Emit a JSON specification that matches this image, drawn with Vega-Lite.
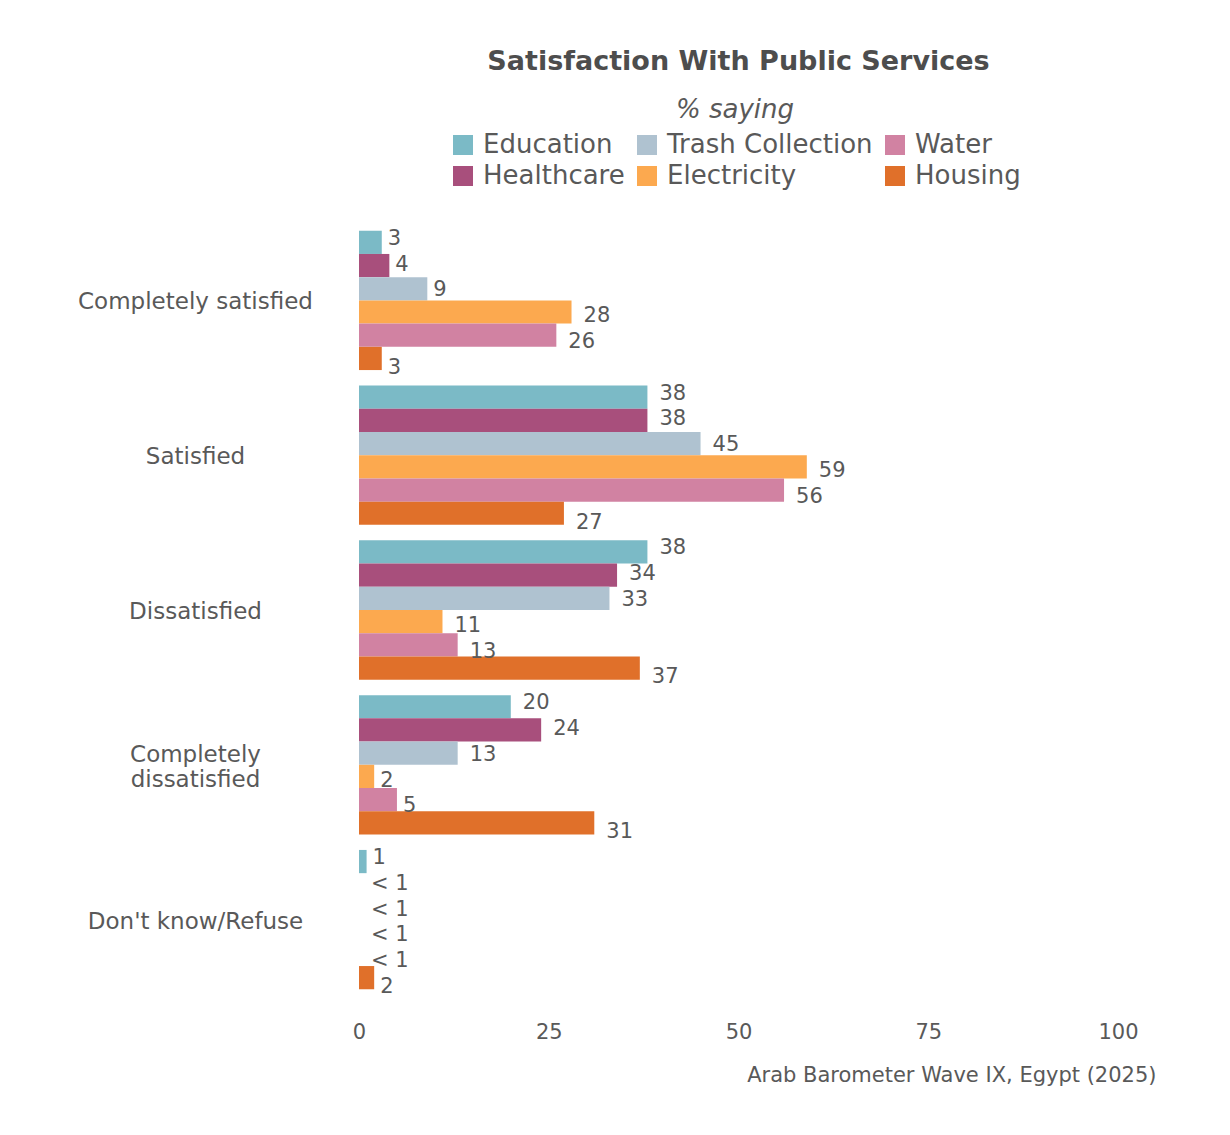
{
  "$schema": "https://vega.github.io/schema/vega-lite/v6.json",
  "width": 759,
  "height": 774,
  "autosize": {"type": "none"},
  "padding": {"left": 359, "top": 223, "right": 112, "bottom": 138},
  "background": "white",
  "title": {
    "text": "Satisfaction With Public Services",
    "anchor": "middle",
    "frame": "group",
    "font": "DejaVu Sans",
    "fontSize": 27,
    "fontWeight": "bold",
    "color": "#4d4d4d",
    "offset": 21
  },
  "config": {
    "view": {"stroke": null},
    "font": "DejaVu Sans",
    "text": {"font": "DejaVu Sans"}
  },
  "data": {
    "values": [
      {"response": "Completely satisfied", "service": "Education", "pct": 3, "label": "3"},
      {"response": "Completely satisfied", "service": "Healthcare", "pct": 4, "label": "4"},
      {"response": "Completely satisfied", "service": "Trash Collection", "pct": 9, "label": "9"},
      {"response": "Completely satisfied", "service": "Electricity", "pct": 28, "label": "28"},
      {"response": "Completely satisfied", "service": "Water", "pct": 26, "label": "26"},
      {"response": "Completely satisfied", "service": "Housing", "pct": 3, "label": "3"},
      {"response": "Satisfied", "service": "Education", "pct": 38, "label": "38"},
      {"response": "Satisfied", "service": "Healthcare", "pct": 38, "label": "38"},
      {"response": "Satisfied", "service": "Trash Collection", "pct": 45, "label": "45"},
      {"response": "Satisfied", "service": "Electricity", "pct": 59, "label": "59"},
      {"response": "Satisfied", "service": "Water", "pct": 56, "label": "56"},
      {"response": "Satisfied", "service": "Housing", "pct": 27, "label": "27"},
      {"response": "Dissatisfied", "service": "Education", "pct": 38, "label": "38"},
      {"response": "Dissatisfied", "service": "Healthcare", "pct": 34, "label": "34"},
      {"response": "Dissatisfied", "service": "Trash Collection", "pct": 33, "label": "33"},
      {"response": "Dissatisfied", "service": "Electricity", "pct": 11, "label": "11"},
      {"response": "Dissatisfied", "service": "Water", "pct": 13, "label": "13"},
      {"response": "Dissatisfied", "service": "Housing", "pct": 37, "label": "37"},
      {"response": "Completely dissatisfied", "service": "Education", "pct": 20, "label": "20"},
      {"response": "Completely dissatisfied", "service": "Healthcare", "pct": 24, "label": "24"},
      {"response": "Completely dissatisfied", "service": "Trash Collection", "pct": 13, "label": "13"},
      {"response": "Completely dissatisfied", "service": "Electricity", "pct": 2, "label": "2"},
      {"response": "Completely dissatisfied", "service": "Water", "pct": 5, "label": "5"},
      {"response": "Completely dissatisfied", "service": "Housing", "pct": 31, "label": "31"},
      {"response": "Don't know/Refuse", "service": "Education", "pct": 1, "label": "1"},
      {"response": "Don't know/Refuse", "service": "Healthcare", "pct": 0, "label": "< 1"},
      {"response": "Don't know/Refuse", "service": "Trash Collection", "pct": 0, "label": "< 1"},
      {"response": "Don't know/Refuse", "service": "Electricity", "pct": 0, "label": "< 1"},
      {"response": "Don't know/Refuse", "service": "Water", "pct": 0, "label": "< 1"},
      {"response": "Don't know/Refuse", "service": "Housing", "pct": 2, "label": "2"}
    ]
  },
  "encoding": {
    "y": {
      "field": "response",
      "type": "nominal",
      "sort": ["Completely satisfied", "Satisfied", "Dissatisfied", "Completely dissatisfied", "Don't know/Refuse"],
      "scale": {"paddingInner": 0.1, "paddingOuter": 0.05},
      "axis": {
        "title": null,
        "domain": false,
        "ticks": false,
        "labelAlign": "center",
        "labelBaseline": "middle",
        "labelPadding": 164,
        "labelFontSize": 23,
        "labelLineHeight": 25,
        "labelColor": "#595959",
        "labelLimit": 400,
        "labelOffset": {"condition": {"test": "datum.value == 'Completely dissatisfied'", "value": -10}, "value": 2},
        "labelExpr": "datum.value == 'Completely dissatisfied' ? ['Completely', 'dissatisfied'] : datum.value"
      }
    },
    "x": {
      "field": "pct",
      "type": "quantitative",
      "scale": {"domain": [0, 100], "nice": false},
      "axis": {
        "title": "Arab Barometer Wave IX, Egypt (2025)",
        "titleFontSize": 21,
        "titleFontWeight": "normal",
        "titleColor": "#595959",
        "titleAlign": "right",
        "titleBaseline": "middle",
        "titleX": 797,
        "titleY": 78,
        "values": [0, 25, 50, 75, 100],
        "domain": false,
        "ticks": false,
        "grid": false,
        "labelFlush": false,
        "labelFontSize": 21,
        "labelColor": "#595959",
        "labelPadding": 24
      }
    }
  },
  "layer": [
    {
      "mark": {"type": "bar"},
      "encoding": {
        "yOffset": {
          "field": "service",
          "type": "nominal",
          "sort": ["Education", "Healthcare", "Trash Collection", "Electricity", "Water", "Housing"],
          "scale": {"paddingInner": 0, "paddingOuter": 0}
        },
        "color": {
          "field": "service",
          "type": "nominal",
          "scale": {
            "domain": ["Education", "Trash Collection", "Water", "Healthcare", "Electricity", "Housing"],
            "range": ["#7bbac6", "#afc2d0", "#d182a2", "#a84f7c", "#fca94f", "#e0702a"]
          },
          "legend": {
            "title": "% saying",
            "orient": "none",
            "legendX": 91,
            "legendY": -126,
            "direction": "horizontal",
            "columns": 3,
            "columnPadding": 9,
            "rowPadding": 5,
            "titleAnchor": "middle",
            "titleFontSize": 26,
            "titleFontStyle": "italic",
            "titleFontWeight": "normal",
            "titleColor": "#595959",
            "titlePadding": 9,
            "labelFontSize": 26,
            "labelColor": "#595959",
            "labelOffset": 7,
            "labelLimit": 400,
            "symbolType": "square",
            "symbolSize": 400,
            "symbolStrokeWidth": 0,
            "symbolOpacity": 1
          }
        }
      }
    },
    {
      "mark": {
        "type": "text",
        "align": "left",
        "baseline": "middle",
        "dx": {"expr": "length(datum.label) > 1 ? 12 : 6"},
        "fontSize": 21,
        "color": "#595959"
      },
      "encoding": {
        "yOffset": {
          "field": "service",
          "type": "nominal",
          "sort": ["Education", "Healthcare", "Trash Collection", "Electricity", "Water", "Housing"],
          "scale": {"paddingInner": 0, "paddingOuter": 0, "range": [8, 137]}
        },
        "text": {"field": "label"}
      }
    }
  ],
  "resolve": {"scale": {"yOffset": "independent"}}
}
